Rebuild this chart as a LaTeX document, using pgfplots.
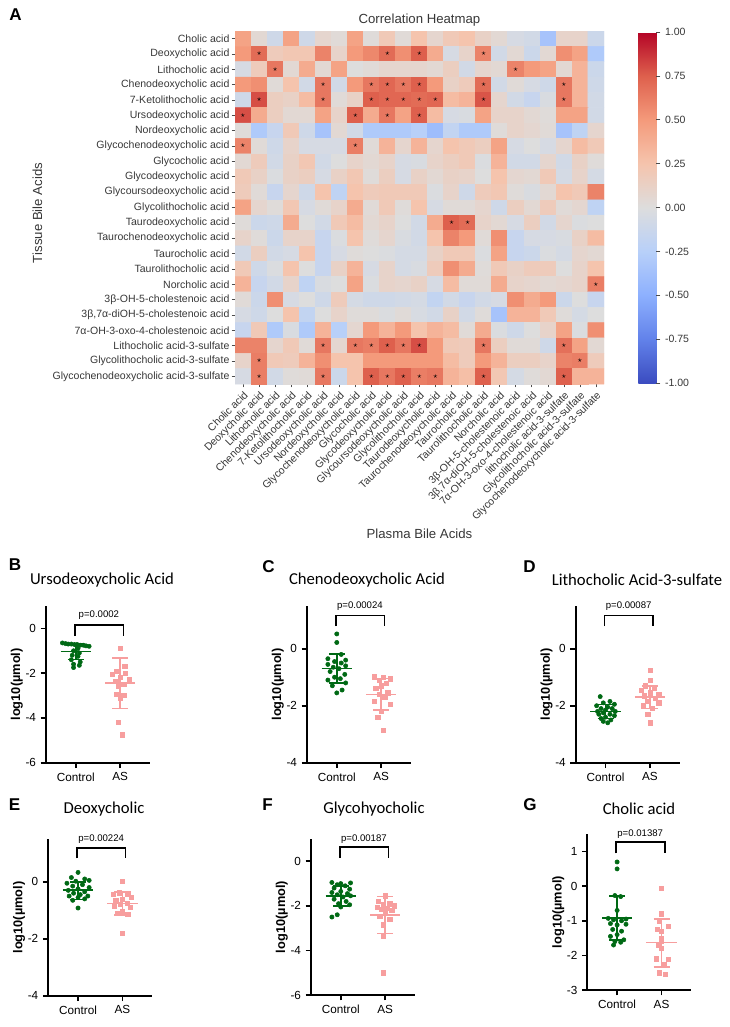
\documentclass[border=0pt]{standalone}
\usepackage{pgfplots}
\pgfplotsset{compat=1.18}
\usepackage{fontspec}
\setmainfont{Liberation Sans}
\newfontfamily\carlito{Carlito}
\definecolor{ctrl}{RGB}{0,105,20}
\definecolor{asc}{RGB}{247,158,158}
\definecolor{lab}{RGB}{55,55,55}
\pgfplotsset{/pgf/number format/assume math mode=true}
\pgfplotsset{
  dotplot/.style={
    scale only axis, width=78pt, anchor=south west,
    xmin=0.33, xmax=2.67,
    axis x line*=bottom, axis y line*=left,
    axis line style={line width=1.4pt, black},
    xtick={1,2}, xticklabels={Control,AS},
    tick style={line width=1.3pt, black},
    major tick length=4pt, tick align=outside,
    ticklabel style={font=\fontsize{8.8}{10}\selectfont},
    ylabel={\bfseries log10(µmol)},
    ylabel style={font=\fontsize{9.6}{11}\selectfont, at={(axis description cs:-0.28,0.5)}, anchor=center},
    clip=false,
  },
  ctrlpts/.style={only marks, mark=*, mark size=1.6pt, mark options={draw=ctrl, fill=ctrl}},
  aspts/.style={only marks, mark=square*, mark size=1.6pt, mark options={draw=asc, fill=asc}},
}
\newcommand{\grpone}[4]{%
  \addplot[#1, line width=1.1pt, mark=none] coordinates {(0.66,#2) (1.34,#2)};
  \addplot[#1, line width=1.1pt, mark=none] coordinates {(1,#3) (1,#4)};
  \addplot[#1, line width=1.1pt, mark=none] coordinates {(0.82,#3) (1.18,#3)};
  \addplot[#1, line width=1.1pt, mark=none] coordinates {(0.82,#4) (1.18,#4)};
}
\newcommand{\grptwo}[4]{%
  \addplot[#1, line width=1.1pt, mark=none] coordinates {(1.66,#2) (2.34,#2)};
  \addplot[#1, line width=1.1pt, mark=none] coordinates {(2,#3) (2,#4)};
  \addplot[#1, line width=1.1pt, mark=none] coordinates {(1.82,#3) (2.18,#3)};
  \addplot[#1, line width=1.1pt, mark=none] coordinates {(1.82,#4) (2.18,#4)};
}
\newcommand{\pbracket}[4]{%
  \addplot[black, line width=1.25pt, mark=none] coordinates {(0.98,#2) (0.98,#1) (2.07,#1) (2.07,#2)};
  \node[font=\fontsize{7.2}{8}\selectfont] at (axis cs:1.52,#3) {#4};
}
\begin{document}
\begin{tikzpicture}
\path[use as bounding box] (0,0) rectangle (546.75pt,-770.25pt);

% ---------------- Heatmap ----------------
\begin{axis}[
  at={(176.25pt,-288pt)}, anchor=south west,
  scale only axis, width=276.75pt, height=264.75pt,
  xmin=-0.5, xmax=22.5, ymin=-0.5, ymax=22.5, y dir=reverse,
  enlargelimits=false,
  axis line style={draw=none},
  xtick={0,...,22}, ytick={0,...,22},
  xticklabels={Cholic acid, Deoxycholic acid, Lithocholic acid, Chenodeoxycholic acid, 7-Ketolithocholic acid, Ursodeoxycholic acid, Nordeoxycholic acid, Glycochenodeoxycholic acid, Glycocholic acid, Glycodeoxycholic acid, Glycoursodeoxycholic acid, Glycolithocholic acid, Taurodeoxycholic acid, Taurochenodeoxycholic acid, Taurocholic acid, Taurolithocholic acid, Norcholic acid, 3β-OH-5-cholestenoic acid, {3β,7α-diOH-5-cholestenoic acid}, 7α-OH-3-oxo-4-cholestenoic acid, lithocholic acid-3-sulfate, Glycolithocholic acid-3-sulfate, Glycochenodeoxycholic acid-3-sulfate},
  yticklabels={Cholic acid, Deoxycholic acid, Lithocholic acid, Chenodeoxycholic acid, 7-Ketolithocholic acid, Ursodeoxycholic acid, Nordeoxycholic acid, Glycochenodeoxycholic acid, Glycocholic acid, Glycodeoxycholic acid, Glycoursodeoxycholic acid, Glycolithocholic acid, Taurodeoxycholic acid, Taurochenodeoxycholic acid, Taurocholic acid, Taurolithocholic acid, Norcholic acid, 3β-OH-5-cholestenoic acid, {3β,7α-diOH-5-cholestenoic acid}, 7α-OH-3-oxo-4-cholestenoic acid, Lithocholic acid-3-sulfate, Glycolithocholic acid-3-sulfate, Glycochenodeoxycholic acid-3-sulfate},
  tick align=outside, xtick pos=bottom, ytick pos=left,
  major tick length=2.5pt, tick style={black!70, line width=0.5pt},
  xticklabel style={rotate=45, anchor=north east, font=\fontsize{7.9}{9}\selectfont, text=lab, inner sep=1.5pt},
  yticklabel style={font=\fontsize{7.9}{9}\selectfont, text=lab, inner sep=1.5pt},
  colormap={coolwarm}{rgb255(0cm)=(59,76,192); rgb255(1cm)=(98,130,234); rgb255(2cm)=(141,176,254); rgb255(3cm)=(184,208,249); rgb255(4cm)=(221,221,221); rgb255(5cm)=(245,196,173); rgb255(6cm)=(244,154,123); rgb255(7cm)=(222,96,77); rgb255(8cm)=(180,4,38)},
  point meta min=-1, point meta max=1,
  colorbar,
  colorbar style={
    at={(parent axis.north east)}, anchor=north west, xshift=17.25pt, yshift=-0.75pt,
    scale only axis, width=13.5pt, height=263.25pt,
    axis line style={draw=none},
    ytick={-1,-0.75,-0.5,-0.25,0,0.25,0.5,0.75,1},
    ytick pos=right, tick align=outside, major tick length=3pt,
    tick style={black!70, line width=0.5pt},
    yticklabel style={font=\fontsize{7.9}{9}\selectfont, text=lab, /pgf/number format/fixed, /pgf/number format/fixed zerofill, /pgf/number format/precision=2},
  },
]
\addplot[matrix plot*, mesh/cols=23, point meta=explicit, draw=none]
 table[header=false, row sep=\\, x expr={mod(\coordindex,23)}, y expr={floor((\coordindex+0.5)/23)}, meta index=0] {
0.45\\0.05\\-0.1\\0.45\\-0.1\\0.08\\0.03\\0.45\\0.02\\0.2\\0.03\\0.25\\0.08\\0.2\\0.25\\0.12\\0.05\\-0.05\\-0.08\\-0.35\\0.1\\0.1\\-0.12\\
0.5\\0.7\\0.18\\0.22\\0.22\\0.6\\0.1\\0.5\\0.58\\0.7\\0.55\\0.75\\0.4\\-0.05\\0.1\\0.6\\-0.08\\0.05\\-0.12\\0.05\\0.55\\0.45\\-0.3\\
-0.05\\0.18\\0.65\\0.05\\0.4\\0.05\\0.45\\0.0\\0.03\\0.08\\0.08\\0.08\\0.05\\0.15\\-0.08\\0.08\\0.05\\0.6\\0.5\\0.45\\0.05\\0.35\\-0.12\\
0.5\\0.55\\0.03\\0.25\\-0.08\\0.65\\-0.08\\0.5\\0.65\\0.72\\0.65\\0.75\\0.5\\0.12\\0.18\\0.7\\-0.08\\0.03\\-0.05\\-0.1\\0.65\\0.35\\-0.1\\
-0.1\\0.8\\0.15\\0.12\\0.3\\0.65\\0.03\\0.12\\0.75\\0.72\\0.72\\0.7\\0.72\\0.3\\0.35\\0.78\\0.08\\-0.08\\-0.15\\-0.03\\0.65\\0.35\\-0.08\\
0.8\\0.4\\0.15\\0.05\\0.05\\0.45\\0.1\\0.75\\0.4\\0.65\\0.45\\0.75\\0.3\\-0.05\\-0.03\\0.45\\0.1\\0.1\\0.05\\0.02\\0.45\\0.45\\-0.08\\
0.02\\-0.3\\-0.15\\0.2\\-0.1\\-0.35\\0.05\\-0.08\\-0.3\\-0.3\\-0.3\\-0.25\\-0.4\\-0.18\\-0.3\\-0.3\\0.02\\0.1\\0.07\\0.03\\-0.35\\-0.2\\0.08\\
0.6\\0.03\\-0.1\\0.1\\-0.05\\-0.05\\-0.05\\0.62\\0.03\\0.35\\0.08\\0.35\\0.08\\0.25\\0.2\\0.15\\0.45\\-0.05\\0.0\\-0.05\\0.08\\0.3\\0.2\\
0.05\\0.18\\-0.08\\0.12\\0.22\\-0.08\\0.0\\0.1\\0.05\\0.1\\-0.05\\-0.03\\0.1\\0.15\\0.2\\-0.02\\0.35\\-0.08\\-0.08\\0.08\\-0.08\\0.12\\0.02\\
0.2\\0.12\\-0.02\\0.12\\0.15\\-0.05\\0.12\\0.22\\0.02\\0.15\\-0.05\\0.12\\0.05\\0.12\\0.1\\0.0\\0.25\\0.07\\0.05\\0.2\\-0.06\\0.1\\-0.06\\
0.18\\0.03\\-0.15\\0.08\\-0.1\\0.25\\-0.2\\0.25\\0.18\\0.2\\0.2\\0.2\\-0.02\\0.1\\-0.1\\0.18\\0.22\\0.02\\-0.03\\0.05\\0.25\\0.2\\0.6\\
0.45\\0.08\\0.02\\0.22\\-0.05\\0.03\\0.1\\0.4\\0.03\\0.2\\0.02\\0.25\\-0.05\\0.03\\0.03\\0.08\\-0.1\\0.15\\0.05\\0.18\\0.03\\0.07\\-0.2\\
0.02\\-0.12\\-0.1\\0.4\\0.0\\-0.08\\0.2\\0.3\\0.05\\0.1\\0.0\\-0.08\\0.4\\0.75\\0.7\\0.1\\0.05\\-0.05\\0.15\\-0.08\\0.08\\-0.02\\0.0\\
0.1\\0.02\\-0.12\\0.1\\0.1\\-0.15\\-0.02\\0.25\\0.02\\0.08\\-0.03\\-0.08\\0.25\\0.6\\0.5\\0.03\\0.55\\-0.15\\-0.05\\-0.05\\-0.03\\0.12\\0.3\\
-0.08\\0.15\\-0.08\\-0.05\\0.25\\-0.15\\-0.05\\0.02\\0.0\\-0.02\\-0.06\\-0.06\\0.12\\0.2\\0.2\\-0.02\\0.45\\-0.15\\-0.12\\-0.02\\-0.06\\0.08\\0.05\\
0.2\\-0.1\\-0.02\\0.25\\0.0\\-0.15\\0.12\\0.35\\-0.05\\0.1\\-0.06\\-0.03\\0.18\\0.55\\0.4\\0.02\\0.2\\0.12\\0.18\\0.18\\0.0\\0.1\\0.25\\
0.35\\-0.15\\-0.08\\0.1\\-0.2\\-0.03\\0.0\\0.45\\-0.02\\0.1\\0.08\\0.12\\-0.05\\0.3\\0.03\\0.03\\0.4\\0.1\\0.08\\0.05\\0.07\\0.1\\0.62\\
0.03\\-0.12\\0.55\\-0.05\\0.0\\-0.1\\0.18\\-0.06\\-0.1\\-0.1\\-0.08\\-0.06\\-0.18\\-0.08\\-0.15\\-0.08\\-0.05\\0.55\\0.4\\0.5\\-0.12\\0.0\\-0.15\\
-0.05\\-0.1\\0.0\\0.25\\-0.18\\0.0\\0.1\\0.02\\0.02\\-0.02\\0.03\\-0.04\\-0.08\\0.12\\-0.08\\0.02\\-0.35\\0.35\\0.35\\0.2\\0.02\\-0.06\\0.0\\
-0.15\\0.2\\-0.3\\-0.03\\-0.3\\0.35\\-0.25\\0.07\\0.5\\0.35\\0.5\\0.25\\0.35\\0.3\\0.03\\0.4\\-0.02\\-0.1\\0.0\\0.1\\0.45\\-0.02\\0.55\\
0.6\\0.6\\0.08\\0.2\\0.03\\0.65\\0.07\\0.65\\0.62\\0.75\\0.65\\0.8\\0.5\\0.2\\0.18\\0.65\\0.15\\0.03\\0.03\\-0.1\\0.68\\0.45\\0.05\\
0.1\\0.62\\0.2\\0.18\\0.35\\0.55\\0.25\\0.25\\0.5\\0.5\\0.5\\0.5\\0.5\\0.3\\0.18\\0.5\\0.35\\0.15\\0.15\\0.1\\0.6\\0.62\\0.18\\
-0.05\\0.62\\-0.08\\0.02\\0.03\\0.65\\-0.12\\0.25\\0.75\\0.65\\0.75\\0.62\\0.65\\0.35\\0.28\\0.75\\0.22\\-0.06\\0.02\\0.05\\0.75\\0.35\\0.35\\
};
\addplot[only marks, mark=text, text mark={$\star$}, text mark as node=true,
  text mark style={font=\fontsize{6.5}{6.5}\selectfont, inner sep=0pt, text=black}] coordinates {
(1,1) (9,1) (11,1) (15,1) (2,2) (17,2)
(5,3) (8,3) (9,3) (10,3) (11,3) (15,3) (20,3)
(1,4) (5,4) (8,4) (9,4) (10,4) (11,4) (12,4) (15,4) (20,4)
(0,5) (7,5) (9,5) (11,5) (0,7) (7,7) (13,12) (14,12) (22,16)
(5,20) (7,20) (8,20) (9,20) (10,20) (11,20) (15,20) (20,20)
(1,21) (21,21)
(1,22) (5,22) (8,22) (9,22) (10,22) (11,22) (12,22) (15,22) (20,22)
};
\end{axis}
\node[font=\fontsize{9.9}{11}\selectfont, text=lab] at (314.6pt,-15pt) {Correlation Heatmap};
\node[font=\fontsize{9.9}{11}\selectfont, text=lab] at (314.6pt,-400.5pt) {Plasma Bile Acids};
\node[font=\fontsize{9.9}{11}\selectfont, text=lab, rotate=90] at (28.1pt,-159.75pt) {Tissue Bile Acids};

% panel letters
\foreach \L/\x/\y in {A/11.6/-10.9, B/11.25/-423.75, C/201.4/-424.9, D/397.1/-424.9, E/10.9/-603.75, F/200.6/-603.75, G/397.5/-603.75}
  \node[font=\bfseries\fontsize{12.8}{14}\selectfont] at (\x pt,\y pt) {\L};
% panel titles
\foreach \T/\x/\y in {Ursodeoxycholic Acid/76.5/-435, Chenodeoxycholic Acid/275.25/-435, Lithocholic Acid-3-sulfate/477.75/-435, Deoxycholic/78/-606.75, Glycohyocholic/280.5/-606.75, Cholic acid/479.25/-606.75}
  \node[font=\carlito\fontsize{12.5}{14}\selectfont] at (\x pt,\y pt) {\T};

% ---------------- B ----------------
\begin{axis}[dotplot, at={(34.5pt,-572pt)}, height=117.5pt, ymin=-6, ymax=1, ytick={-6,-4,-2,0}]
\addplot[ctrlpts] coordinates {(0.70,-0.65) (0.77,-0.68) (0.83,-0.7) (0.9,-0.7) (0.97,-0.72) (1.03,-0.72) (1.1,-0.75) (1.17,-0.75) (1.23,-0.78) (1.3,-0.8) (1.05,-0.9) (0.95,-1.0) (1.08,-1.1) (0.92,-1.2) (1.05,-1.25) (0.9,-1.4) (1.1,-1.5) (0.95,-1.6) (1.08,-1.65) (0.95,-1.75)};
\addplot[aspts] coordinates {(2.0,-0.88) (2.1,-1.7) (1.92,-1.9) (2.12,-2.0) (1.82,-2.05) (2.0,-2.2) (2.2,-2.3) (1.9,-2.35) (2.08,-2.5) (1.95,-2.6) (1.92,-2.95) (2.08,-3.0) (2.0,-3.1) (1.95,-4.2) (2.05,-4.75)};
\grpone{ctrl}{-1.03}{-1.4}{-0.68}
\grptwo{asc}{-2.45}{-3.58}{-1.32}
\pbracket{0.15}{-0.35}{0.58}{p=0.0002}
\end{axis}

% ---------------- C ----------------
\begin{axis}[dotplot, at={(230.25pt,-572pt)}, height=117.5pt, ymin=-4, ymax=1.5, ytick={-4,-2,0}]
\addplot[ctrlpts] coordinates {(1.0,0.52) (1.0,0.22) (1.1,-0.2) (0.8,-0.35) (1.2,-0.4) (0.95,-0.45) (1.1,-0.5) (0.8,-0.55) (1.2,-0.6) (0.92,-0.65) (1.05,-0.7) (0.85,-0.8) (1.18,-0.9) (0.95,-1.0) (1.08,-1.05) (0.8,-1.1) (1.2,-1.2) (0.9,-1.3) (1.12,-1.45) (1.0,-1.55)};
\addplot[aspts] coordinates {(1.85,-0.98) (2.05,-1.0) (2.2,-1.05) (1.95,-1.1) (2.12,-1.2) (2.0,-1.3) (1.88,-1.4) (2.15,-1.55) (1.95,-1.6) (2.08,-1.7) (1.85,-1.85) (2.2,-1.95) (2.0,-2.2) (1.92,-2.4) (2.05,-2.85)};
\grpone{ctrl}{-0.69}{-1.2}{-0.18}
\grptwo{asc}{-1.6}{-2.15}{-1.05}
\pbracket{1.17}{0.79}{1.49}{p=0.00024}
\end{axis}

% ---------------- D ----------------
\begin{axis}[dotplot, at={(431.8pt,-572pt)}, height=117.5pt, ymin=-4, ymax=1.5, ytick={-4,-2,0}]
\addplot[ctrlpts] coordinates {(0.88,-1.68) (1.1,-1.85) (0.95,-1.9) (1.2,-1.95) (0.8,-2.0) (1.05,-2.05) (0.9,-2.1) (1.15,-2.1) (1.0,-2.15) (0.82,-2.2) (1.22,-2.2) (0.95,-2.25) (1.1,-2.3) (0.85,-2.3) (1.2,-2.35) (1.0,-2.4) (0.9,-2.45) (1.12,-2.5) (0.95,-2.55) (1.05,-2.6)};
\addplot[aspts] coordinates {(2.0,-0.75) (2.0,-1.1) (1.9,-1.3) (2.1,-1.4) (1.8,-1.45) (2.0,-1.55) (2.2,-1.6) (1.88,-1.65) (2.12,-1.75) (1.95,-1.85) (2.2,-1.9) (1.85,-2.0) (2.05,-2.1) (1.95,-2.3) (2.0,-2.6)};
\grpone{ctrl}{-2.2}{-2.45}{-1.95}
\grptwo{asc}{-1.7}{-2.1}{-1.3}
\pbracket{1.17}{0.79}{1.49}{p=0.00087}
\end{axis}

% ---------------- E ----------------
\begin{axis}[dotplot, at={(36.2pt,-746.8pt)}, height=117.5pt, ymin=-4, ymax=1.5, ytick={-4,-2,0}]
\addplot[ctrlpts] coordinates {(1.0,0.33) (0.85,0.15) (1.15,0.1) (1.25,0.05) (0.95,0.02) (0.75,-0.05) (1.1,-0.1) (0.88,-0.15) (1.25,-0.2) (1.0,-0.25) (0.78,-0.3) (1.15,-0.35) (0.9,-0.4) (1.05,-0.45) (1.22,-0.5) (0.8,-0.5) (1.0,-0.55) (1.15,-0.6) (0.88,-0.65) (1.0,-0.92)};
\addplot[aspts] coordinates {(2.0,0.02) (1.92,-0.38) (2.12,-0.42) (1.8,-0.45) (2.2,-0.55) (2.0,-0.6) (1.85,-0.65) (2.1,-0.75) (1.95,-0.8) (1.82,-0.85) (2.18,-0.9) (2.0,-1.05) (1.88,-1.1) (2.12,-1.15) (2.0,-1.8)};
\grpone{ctrl}{-0.29}{-0.62}{0.0}
\grptwo{asc}{-0.76}{-1.17}{-0.35}
\pbracket{1.19}{0.82}{1.5}{p=0.00224}
\end{axis}

% ---------------- F ----------------
\begin{axis}[dotplot, at={(233.25pt,-746.25pt)}, height=117pt, ymin=-6, ymax=1, ytick={-6,-4,-2,0}]
\addplot[ctrlpts] coordinates {(0.8,-0.95) (1.22,-0.97) (1.0,-1.0) (0.92,-1.05) (1.1,-1.1) (0.85,-1.2) (1.2,-1.25) (1.0,-1.35) (0.8,-1.4) (1.15,-1.45) (0.92,-1.5) (1.22,-1.55) (1.05,-1.6) (0.85,-1.7) (1.12,-1.8) (0.95,-1.9) (1.2,-1.95) (1.0,-2.05) (0.92,-2.4) (0.8,-2.5)};
\addplot[aspts] coordinates {(2.0,-1.55) (1.85,-1.8) (2.1,-1.9) (1.95,-1.95) (2.2,-2.0) (1.82,-2.05) (2.05,-2.1) (1.92,-2.15) (2.15,-2.2) (2.0,-2.3) (1.88,-2.45) (2.1,-2.6) (1.95,-2.85) (1.95,-3.35) (1.95,-5.0)};
\grpone{ctrl}{-1.55}{-2.0}{-1.1}
\grptwo{asc}{-2.4}{-3.23}{-1.58}
\pbracket{0.63}{0.15}{1.0}{p=0.00187}
\end{axis}

% ---------------- G ----------------
\begin{axis}[dotplot, at={(440.5pt,-742.5pt)}, height=116.8pt, ymin=-3, ymax=1.5, ytick={-3,-2,-1,0,1}]
\addplot[ctrlpts] coordinates {(1.0,0.7) (1.0,0.5) (0.95,-0.27) (1.08,-0.3) (1.0,-0.7) (0.8,-0.93) (1.2,-0.95) (0.92,-0.97) (1.1,-1.0) (0.85,-1.08) (1.2,-1.1) (1.0,-1.12) (0.9,-1.25) (1.1,-1.3) (1.0,-1.4) (0.85,-1.45) (1.15,-1.55) (0.95,-1.6) (1.08,-1.62) (0.92,-1.7)};
\addplot[aspts] coordinates {(2.0,-0.05) (2.0,-0.8) (1.95,-1.02) (2.15,-1.15) (1.9,-1.25) (2.0,-1.3) (2.0,-1.5) (2.0,-1.6) (1.92,-1.7) (2.0,-1.8) (1.88,-2.1) (2.15,-2.12) (2.05,-2.25) (1.95,-2.5) (2.08,-2.55)};
\grpone{ctrl}{-0.92}{-1.55}{-0.28}
\grptwo{asc}{-1.63}{-2.33}{-0.95}
\pbracket{1.28}{0.95}{1.5}{p=0.01387}
\end{axis}
\end{tikzpicture}
\end{document}
